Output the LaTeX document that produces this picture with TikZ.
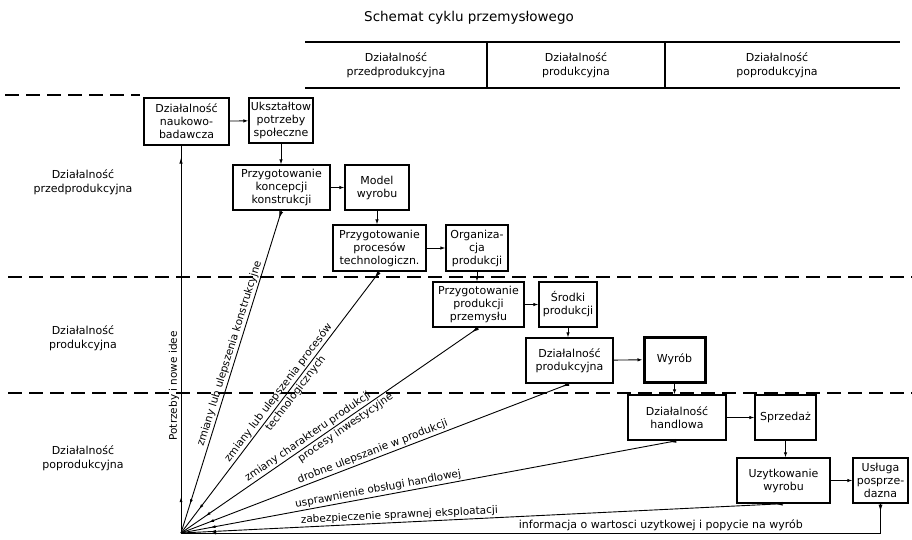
\documentclass[tikz,border=0pt]{standalone}
\usepackage{fontspec}
\setmainfont{DejaVu Sans}
\usetikzlibrary{arrows.meta, decorations.markings}

\tikzset{
  box/.style={draw, line width=1.3pt, align=center, inner sep=1pt,
              font=\fontsize{11}{13}\selectfont},
  link/.style={line width=0.9pt, -{Latex[length=5pt, width=3.5pt]}},
  flow/.style={line width=0.9pt, decoration={markings,
      mark=at position 8pt with {\arrow{Latex[length=7pt, width=4pt]}},
      mark=at position -30pt with {\arrow{Latex[length=5pt, width=3pt]}}},
      postaction={decorate}},
  rise/.style={line width=0.9pt, decoration={markings,
      mark=at position 36pt with {\arrow{Latex[length=5pt, width=3pt]}},
      mark=at position -12pt with {\arrow{Latex[length=6pt, width=3.5pt]}}},
      postaction={decorate}},
  lbl/.style={font=\fontsize{10.5}{12.5}\selectfont, sloped, inner sep=1.5pt},
  band/.style={dash pattern=on 14pt off 7pt, line width=1.1pt},
  head/.style={align=center, font=\fontsize{11}{13.5}\selectfont},
}

\begin{document}
\begin{tikzpicture}[x=1pt, y=-1pt]
  \useasboundingbox (0,0) rectangle (912,539);

  % title and header table
  \node[font=\fontsize{13.5}{15}\selectfont] (title) at (469,18) {Schemat cyklu przemysłowego};
  \draw[line width=1.1pt] (305,42) -- (900,42) (305,88) -- (900,88)
    (487,42) -- (487,88) (665,42) -- (665,88);
  \node[head] (hd1) at (396,65) {Działalność\\przedprodukcyjna};
  \node[head] (hd2) at (576,65) {Działalność\\produkcyjna};
  \node[head] (hd3) at (777,65) {Działalność\\poprodukcyjna};

  % phase bands
  \draw[band] (5,95) -- (140,95);
  \draw[band] (8,277) -- (912,277);
  \draw[band] (8,393) -- (912,393);
  \node[head] (side1) at (83,182) {Działalność\\przedprodukcyjna};
  \node[head] (side2) at (83,338) {Działalność\\produkcyjna};
  \node[head] (side3) at (83,458) {Działalność\\poprodukcyjna};

  % boxes
  \node[box, minimum width=85pt, minimum height=47pt] (A) at (186.5,121.5) {Działalność\\naukowo-\\badawcza};
  \node[box, minimum width=64pt, minimum height=45pt] (B) at (281,120.5) {Ukształtow\\potrzeby\\społeczne};
  \node[box, minimum width=97pt, minimum height=45pt] (C) at (281.5,187.5) {Przygotowanie\\koncepcji\\konstrukcji};
  \node[box, minimum width=64pt, minimum height=45pt] (D) at (377,187.5) {Model\\wyrobu};
  \node[box, minimum width=93pt, minimum height=46pt] (E) at (379.5,248) {Przygotowanie\\procesów\\technologiczn.};
  \node[box, minimum width=62pt, minimum height=46pt] (F) at (477,248) {Organiza-\\cja\\produkcji};
  \node[box, minimum width=91pt, minimum height=45pt] (G) at (478.5,304.5) {Przygotowanie\\produkcji\\przemysłu};
  \node[box, minimum width=58pt, minimum height=45pt] (H) at (568,304.5) {Środki\\produkcji};
  \node[box, minimum width=87pt, minimum height=45pt] (I) at (569.5,360.5) {Działalność\\produkcyjna};
  \node[box, line width=3pt, minimum width=61pt, minimum height=45pt] (J) at (674.5,359.5) {Wyrób};
  \node[box, minimum width=98pt, minimum height=45pt] (K) at (677,417.5) {Działalność\\handlowa};
  \node[box, minimum width=61pt, minimum height=45pt] (L) at (785.5,417.5) {Sprzedaż};
  \node[box, minimum width=93pt, minimum height=45pt] (M) at (783.5,480.5) {Uzytkowanie\\wyrobu};
  \node[box, minimum width=55pt, minimum height=45pt] (N) at (880.5,480.5) {Usługa\\posprze-\\dazna};
  \coordinate (O) at (181,533);

  % chain of activities
  \draw[link] (A) -- (B);
  \draw[link] (B.south) -- (B.south |- C.north);
  \draw[link] (C) -- (D);
  \draw[link] (D.south) -- (D.south |- E.north);
  \draw[link] (E) -- (F);
  \draw[link] (F.south) -- (F.south |- G.north);
  \draw[link] (G) -- (H);
  \draw[link] (H.south) -- (H.south |- I.north);
  \draw[link] (I) -- (J);
  \draw[link] (J.south) -- (J.south |- K.north);
  \draw[link] (K) -- (L);
  \draw[link] (L.south) -- (L.south |- M.north);
  \draw[link] (M) -- (N);

  % feedback to the origin
  \draw[rise] (O) -- (A.south -| O)
    node[pos=0.38, rotate=90, above, font=\fontsize{10.5}{12}\selectfont, inner sep=1.5pt] {Potrzeby i nowe idee};
  \draw[flow] (C.south) -- (O)
    node[lbl, above, pos=0.45] {zmiany lub ulepszenia konstrukcyjne};
  \draw[flow] (E.south) -- (O)
    node[lbl, above, pos=0.48] {zmiany lub ulepszenia procesów}
    node[lbl, below, pos=0.45] {technologicznych};
  \draw[flow] (G.south) -- (O)
    node[lbl, above, pos=0.56] {zmiany charakteru produkcji}
    node[lbl, below, pos=0.46] {procesy inwestycyjne};
  \draw[flow] (I.south) -- (O)
    node[lbl, above, pos=0.50] {drobne ulepszanie w produkcji};
  \draw[flow] (K.south) -- (O)
    node[lbl, above, pos=0.60] {usprawnienie obsługi handlowej};
  \draw[flow] (M.south) -- (O)
    node[lbl, above, pos=0.637] {zabezpieczenie sprawnej eksploatacji};
  \draw[flow] (N.south) |- (O)
    node[above, pos=0.657, font=\fontsize{11}{13}\selectfont, inner sep=1.5pt] {informacja o wartosci uzytkowej i popycie na wyrób};
\end{tikzpicture}
\end{document}
